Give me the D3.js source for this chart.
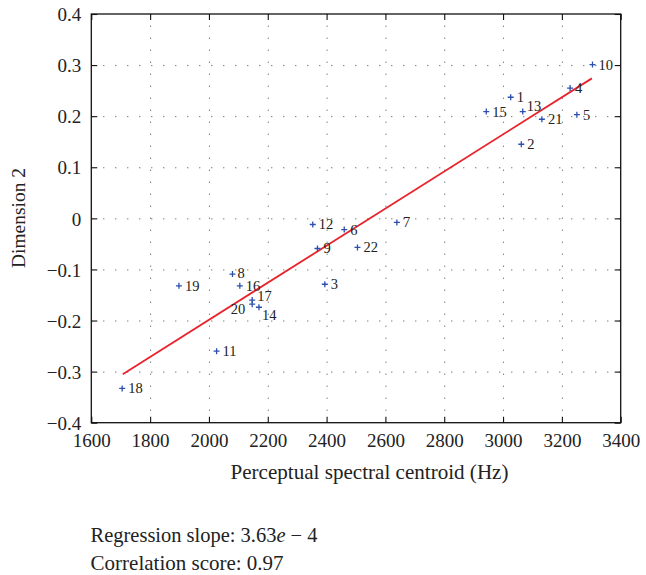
<!DOCTYPE html>
<html>
<head>
<meta charset="utf-8">
<script src="https://cdn.jsdelivr.net/npm/d3@7"></script>
<style>
  html, body { margin: 0; padding: 0; background: #fff; }
  svg { display: block; }
</style>
</head>
<body>
<svg id="chart" width="646" height="575"></svg>
<script>
// ---- data ----
const ids = ["1","2","3","4","5","6","7","8","9","10","11","12","13","14","15","16","17","18","19","20","21","22"];
const centroidHz = [3026, 3062, 2394, 3228, 3251, 2460, 2639, 2080, 2369, 3304, 2026, 2353, 3067, 2170, 2943, 2105, 2147, 1705, 1898, 2147, 3132, 2505];
const dimension2 = [0.237, 0.145, -0.129, 0.255, 0.203, -0.022, -0.008, -0.109, -0.059, 0.301, -0.260, -0.012, 0.209, -0.174, 0.209, -0.132, -0.160, -0.333, -0.132, -0.168, 0.194, -0.057];
const fitX = [1707, 3302];
const fitY = [-0.305, 0.274];
const xTicks = [1600, 1800, 2000, 2200, 2400, 2600, 2800, 3000, 3200, 3400];
const yTicks = [-0.4, -0.3, -0.2, -0.1, 0, 0.1, 0.2, 0.3, 0.4];
const xTitle = "Perceptual spectral centroid (Hz)";
const yTitle = "Dimension 2";
const slopeText = "3.63";
const corrText = "Correlation score: 0.97";

// ---- layout (label offsets, not data) ----
const labelOffset = {
  "8": {dx: 5, dy: 4}, "17": {dx: 5, dy: 1}, "20": {dx: -7, dy: 10, anchor: "end"},
  "14": {dx: 3, dy: 13}, "13": {dx: 4, dy: -1}, "4": {dx: 5, dy: 5}
};
const FONT = '"Liberation Serif", "DejaVu Serif", serif';

const svg = d3.select("#chart");
const L = 91.3, R = 620.7, T = 14, B = 422.7;
const x = d3.scaleLinear().domain([1600, 3400]).range([L, R]);
const y = d3.scaleLinear().domain([-0.4, 0.4]).range([B, T]);

// grid
const grid = svg.append("g");
grid.append("g").attr("transform", `translate(0,${B})`)
  .call(d3.axisBottom(x).tickValues(xTicks.slice(1, -1)).tickSize(-(B - T)).tickFormat(""))
  .call(g => g.select(".domain").remove())
  .call(g => g.selectAll("line").attr("stroke", "#444").attr("stroke-width", 1).attr("stroke-dasharray", "1,11"));
grid.append("g").attr("transform", `translate(${L},0)`)
  .call(d3.axisLeft(y).tickValues(yTicks.slice(1, -1)).tickSize(-(R - L)).tickFormat(""))
  .call(g => g.select(".domain").remove())
  .call(g => g.selectAll("line").attr("stroke", "#444").attr("stroke-width", 1).attr("stroke-dasharray", "1,11"));

const fmtY = d => Math.abs(d) < 1e-9 ? "0" : d3.format(".1f")(d);
const tickFont = 19;

// axes with inward ticks
const gx = svg.append("g").attr("transform", `translate(0,${B})`)
  .call(d3.axisBottom(x).tickValues(xTicks).tickSizeInner(-6).tickSizeOuter(0).tickPadding(11).tickFormat(d3.format("d")));
const gy = svg.append("g").attr("transform", `translate(${L},0)`)
  .call(d3.axisLeft(y).tickValues(yTicks).tickSizeInner(-6).tickSizeOuter(0).tickPadding(10).tickFormat(fmtY));
const gt = svg.append("g").attr("transform", `translate(0,${T})`)
  .call(d3.axisTop(x).tickValues(xTicks).tickSizeInner(-6).tickSizeOuter(0).tickFormat(""));
const gr = svg.append("g").attr("transform", `translate(${R},0)`)
  .call(d3.axisRight(y).tickValues(yTicks).tickSizeInner(-6).tickSizeOuter(0).tickFormat(""));
[gx, gy, gt, gr].forEach(g => {
  g.select(".domain").remove();
  g.attr("font-family", null).attr("font-size", null);
  g.selectAll("line").attr("stroke", "#111").attr("stroke-width", 1.1);
  g.selectAll("text").style("font-family", FONT).style("font-size", tickFont + "px").attr("fill", "#222");
});
gx.selectAll("text").attr("dy", null).attr("y", 447 - B);
gy.selectAll("text").attr("dy", "0.35em");

// frame
svg.append("rect").attr("x", L).attr("y", T).attr("width", R - L).attr("height", B - T)
  .attr("fill", "none").attr("stroke", "#111").attr("stroke-width", 1.3);

// regression line
svg.append("line")
  .attr("x1", x(fitX[0])).attr("y1", y(fitY[0]))
  .attr("x2", x(fitX[1])).attr("y2", y(fitY[1]))
  .attr("stroke", "#e8232b").attr("stroke-width", 1.8);

// points
const pts = ids.map((id, i) => ({id, cx: centroidHz[i], cy: dimension2[i]}));
const ms = 3;
const pg = svg.append("g").selectAll("g").data(pts).join("g")
  .attr("transform", d => `translate(${x(d.cx)},${y(d.cy)})`);
pg.append("path").attr("d", `M${-ms},0H${ms}M0,${-ms}V${ms}`)
  .attr("stroke", "#2b4fae").attr("stroke-width", 1.3).attr("fill", "none");
pg.append("text")
  .attr("x", d => (labelOffset[d.id] || {dx: 6}).dx)
  .attr("y", d => (labelOffset[d.id] || {dy: 5}).dy)
  .attr("text-anchor", d => (labelOffset[d.id] || {}).anchor || "start")
  .style("font-family", FONT).style("font-size", "14.5px").attr("fill", "#222")
  .text(d => d.id);

function fit(sel, target, base) {
  sel.style("font-family", FONT).attr("fill", "#222").style("font-size", base + "px");
  const w = sel.node().getComputedTextLength();
  sel.style("font-size", (base * target / w).toFixed(2) + "px");
}

// axis titles
const xt = svg.append("text").attr("x", 369.5).attr("y", 479).attr("text-anchor", "middle").text(xTitle);
fit(xt, 278, 20);
const yt = svg.append("text").attr("transform", "translate(25,218) rotate(-90)").attr("text-anchor", "middle").text(yTitle);
fit(yt, 100, 20);

// notes
const t1 = svg.append("text").attr("x", 90.6).attr("y", 542.3);
t1.append("tspan").text("Regression slope: " + slopeText);
t1.append("tspan").attr("font-style", "italic").text("e");
t1.append("tspan").text(" \u2212 4");
fit(t1, 227, 20);
const t2 = svg.append("text").attr("x", 90.6).attr("y", 570).text(corrText);
fit(t2, 193, 20);
</script>
</body>
</html>
